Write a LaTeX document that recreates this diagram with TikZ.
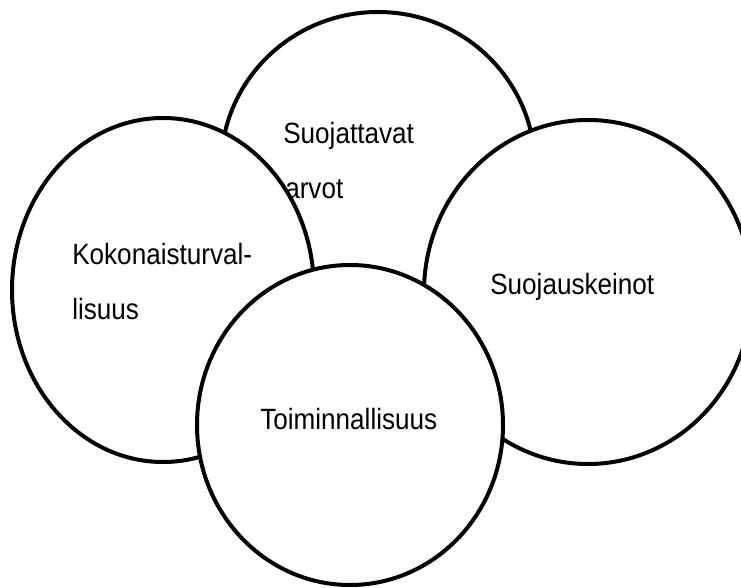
\documentclass[tikz,border=0pt]{standalone}
\usepackage{fontspec}
\setmainfont[FakeStretch=0.89]{Liberation Sans}
\usepackage{tikz}
\usetikzlibrary{shapes}

\begin{document}
\begin{tikzpicture}[line join=bevel,
  area/.style={draw=black,fill=white,ellipse,line width=3bp,inner sep=0pt},
  label_txt/.style={anchor=base west,inner sep=0pt,
    font=\fontsize{22bp}{26bp}\selectfont},
  ]
\useasboundingbox (0bp,0bp) rectangle (555.75bp,441bp);
%%
\node (ell_arvot) at (283.5bp,315.75bp)
  [area,minimum width=235.5bp,minimum height=232.5bp] {};
\node (txt_arvot1) at (212.25bp,333.0bp) [label_txt] {Suojattavat};
\node (txt_arvot2) at (213.75bp,291.75bp) [label_txt] {arvot};

\node (ell_koko) at (122.25bp,223.5bp)
  [area,minimum width=226.5bp,minimum height=258bp] {};
\node (txt_koko1) at (54.0bp,242.25bp) [label_txt] {Kokonaisturval-};
\node (txt_koko2) at (54.0bp,201.0bp) [label_txt] {lisuus};

\node (ell_keino) at (441.0bp,222.0bp)
  [area,minimum width=246bp,minimum height=258bp] {};
\node (txt_keino) at (367.5bp,219.75bp) [label_txt] {Suojauskeinot};

\node (ell_toim) at (262.5bp,122.25bp)
  [area,minimum width=229.5bp,minimum height=240bp] {};
\node (txt_toim) at (195.0bp,118.5bp) [label_txt] {Toiminnallisuus};
\end{tikzpicture}
\end{document}
